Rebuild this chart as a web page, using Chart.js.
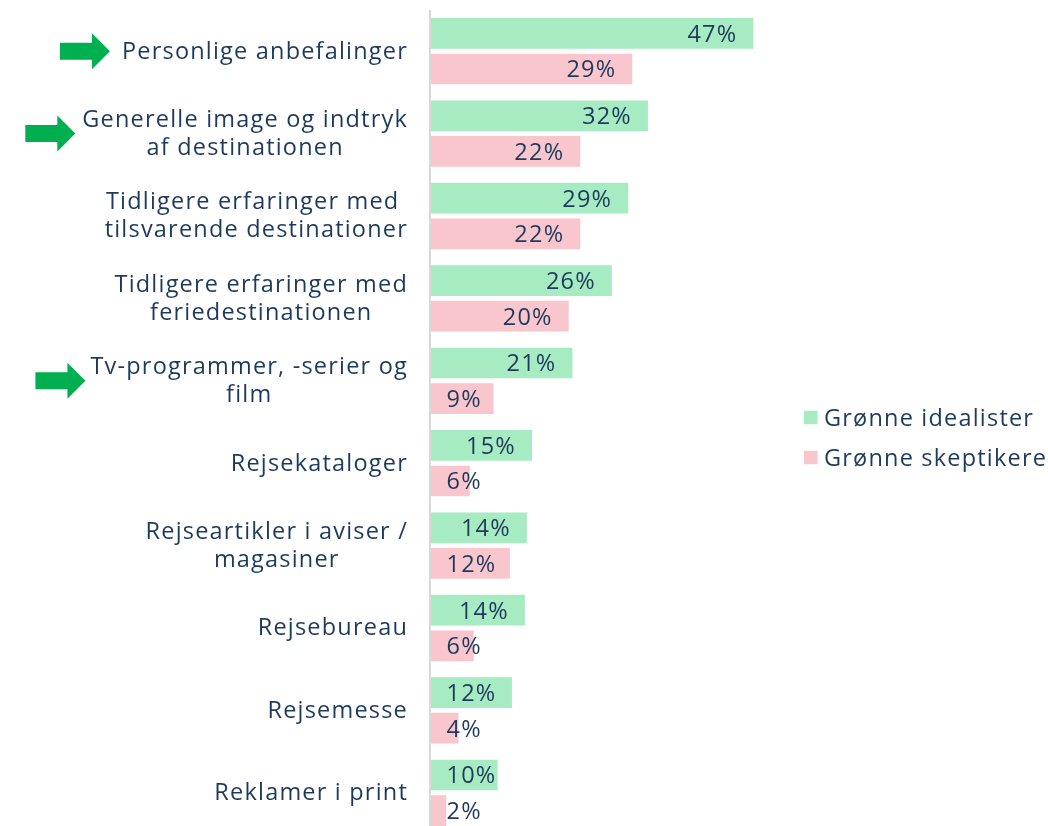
<!DOCTYPE html>
<html><head><meta charset="utf-8">
<script src="https://cdn.jsdelivr.net/npm/chart.js@4"></script>
<style>
html,body{margin:0;padding:0;overflow:hidden;background:#fff;width:1048px;height:826px}
#wrap{position:absolute;left:0;top:0;width:1048px;height:840px}
</style>
</head><body><div id="wrap"><canvas id="c"></canvas></div>
<script>
const categories = [
  ["Personlige anbefalinger"],
  ["Generelle image og indtryk", "af destinationen"],
  ["Tidligere erfaringer med ", "tilsvarende destinationer"],
  ["Tidligere erfaringer med", "feriedestinationen"],
  ["Tv-programmer, -serier og", "film"],
  ["Rejsekataloger"],
  ["Rejseartikler i aviser /", "magasiner"],
  ["Rejsebureau"],
  ["Rejsemesse"],
  ["Reklamer i print"]
];
const seriesNames = ["Grønne idealister", "Grønne skeptikere"];
const idealisterValues = [47.4, 31.9, 29.0, 26.6, 20.8, 14.85, 14.1, 13.8, 11.9, 9.8];
const idealisterLabels = [47, 32, 29, 26, 21, 15, 14, 14, 12, 10];
const skeptikereValues = [29.6, 21.95, 21.95, 20.25, 9.2, 5.7, 11.6, 6.3, 4.05, 2.25];
const skeptikereLabels = [29, 22, 22, 20, 9, 6, 12, 6, 4, 2];
const highlighted = [0, 1, 4];

const TEXT = '#1d3a5c';
const FONT_SIZE = 23.5;
const FONT = FONT_SIZE + 'px "Open Sans"';
const SPACING = '1.2px';
const colors = ['#a6ebc1', '#f9c6cd'];
const arrowGap = {0: 12, 1: 7, 4: 5};

function setFont(ctx){
  ctx.font = FONT;
  try { ctx.letterSpacing = SPACING; } catch(e) {}
}

const customDraw = {
  id: 'customDraw',
  beforeDatasetsDraw(chart){
    const {ctx, chartArea} = chart;
    ctx.save();
    ctx.strokeStyle = '#d9d9d9';
    ctx.lineWidth = 2;
    ctx.beginPath();
    ctx.moveTo(chartArea.left - 1, chartArea.top);
    ctx.lineTo(chartArea.left - 1, chartArea.bottom);
    ctx.stroke();
    ctx.restore();
  },
  afterDatasetsDraw(chart){
    const {ctx, chartArea, scales} = chart;
    const yScale = scales.y;
    ctx.save();
    setFont(ctx);
    ctx.fillStyle = TEXT;
    const capHalf = FONT_SIZE * 0.357;
    // category labels
    const blockRight = chartArea.left - 23;
    categories.forEach((lines, i) => {
      const cy = yScale.getPixelForValue(i) - 1;
      const widths = lines.map(l => ctx.measureText(l).width);
      const bw = Math.max(...widths);
      const cx = blockRight - bw / 2;
      const lh = 28;
      const y0 = cy - (lines.length - 1) * lh / 2;
      ctx.textAlign = 'center';
      lines.forEach((l, j) => {
        ctx.fillText(l, cx, y0 + j * lh + capHalf);
      });
      if (highlighted.includes(i)) {
        const ax2 = blockRight - bw - (arrowGap[i] || 8);
        const ax1 = ax2 - 50;
        const ay = cy + 1;
        ctx.save();
        ctx.fillStyle = '#00b050';
        ctx.beginPath();
        ctx.moveTo(ax1, ay - 8.5);
        ctx.lineTo(ax2 - 18, ay - 8.5);
        ctx.lineTo(ax2 - 18, ay - 18);
        ctx.lineTo(ax2, ay);
        ctx.lineTo(ax2 - 18, ay + 18);
        ctx.lineTo(ax2 - 18, ay + 8.5);
        ctx.lineTo(ax1, ay + 8.5);
        ctx.closePath();
        ctx.fill();
        ctx.restore();
      }
    });
    // data labels
    const labelSets = [idealisterLabels, skeptikereLabels];
    ctx.textAlign = 'right';
    chart.data.datasets.forEach((ds, di) => {
      const meta = chart.getDatasetMeta(di);
      meta.data.forEach((el, i) => {
        const t = labelSets[di][i] + '%';
        const w = ctx.measureText(t).width;
        const right = Math.max(el.x - 16, chartArea.left + 15.5 + w);
        ctx.fillText(t, right, el.y + capHalf);
      });
    });
    // legend
    const lx = chartArea.right + 12.6;
    const midY = (chartArea.top + chartArea.bottom) / 2;
    const ys = [midY - 4.5, midY + 35.5];
    seriesNames.forEach((n, i) => {
      ctx.fillStyle = colors[i];
      ctx.fillRect(lx, ys[i] - 6.75, 13.5, 13.5);
      ctx.fillStyle = TEXT;
      ctx.textAlign = 'left';
      ctx.fillText(n, lx + 20, ys[i] + capHalf);
    });
    ctx.restore();
  }
};

new Chart(document.getElementById('c'), {
  type: 'bar',
  data: {
    labels: categories.map(c => c.join(' ')),
    datasets: [
      {label: seriesNames[0], data: idealisterValues, backgroundColor: colors[0], borderWidth: 0, categoryPercentage: 0.864, barPercentage: 0.862},
      {label: seriesNames[1], data: skeptikereValues, backgroundColor: colors[1], borderWidth: 0, categoryPercentage: 0.864, barPercentage: 0.862}
    ]
  },
  options: {
    indexAxis: 'y',
    responsive: true,
    maintainAspectRatio: false,
    animation: false,
    layout: {padding: {left: 431, right: 256.6, top: 10, bottom: 6}},
    plugins: {legend: {display: false}, tooltip: {enabled: false}},
    scales: {
      x: {display: false, min: 0, max: 53},
      y: {display: false}
    }
  },
  plugins: [customDraw]
});
</script>
</body></html>
